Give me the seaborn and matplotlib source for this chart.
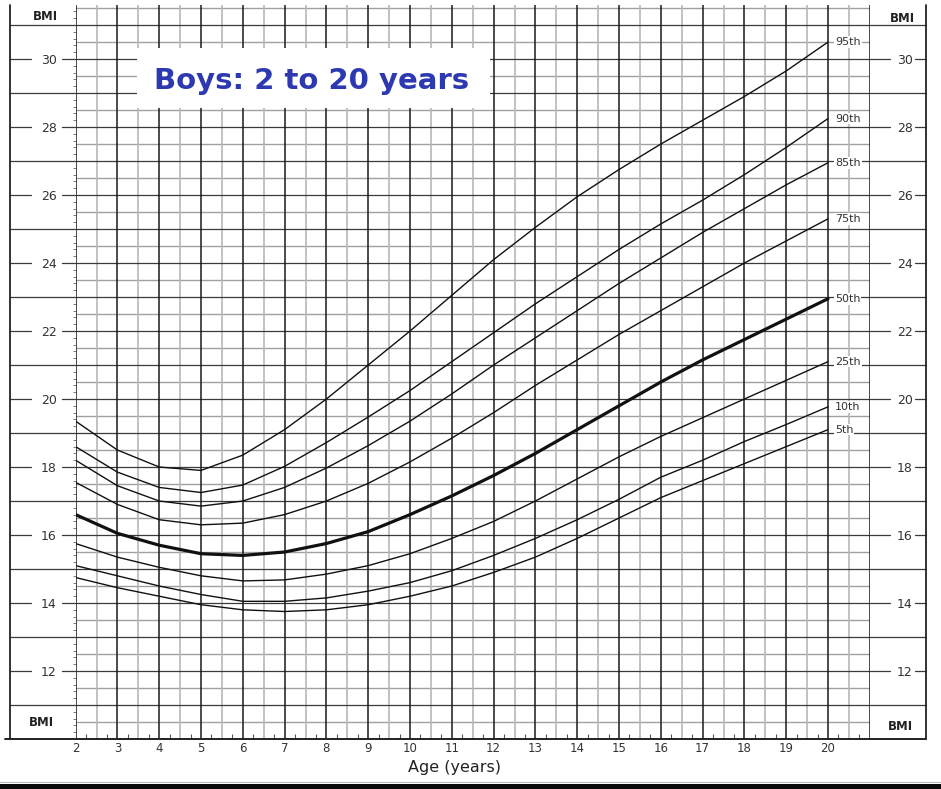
import numpy as np
import pandas as pd
import matplotlib
matplotlib.use("Agg")
import matplotlib.pyplot as plt
import matplotlib.transforms as mtransforms
from matplotlib.lines import Line2D
from matplotlib.patches import Rectangle
import seaborn as sns

# ---------------- data ----------------
ages = list(range(2, 21))
p5 = [14.75, 14.45, 14.2, 13.95, 13.8, 13.75, 13.8, 13.95, 14.2, 14.5, 14.9, 15.35, 15.9, 16.5, 17.1, 17.6, 18.1, 18.6, 19.1]
p10 = [15.1, 14.8, 14.5, 14.25, 14.05, 14.05, 14.15, 14.35, 14.6, 14.95, 15.4, 15.9, 16.45, 17.05, 17.7, 18.2, 18.75, 19.25, 19.77]
p25 = [15.75, 15.35, 15.05, 14.8, 14.65, 14.68, 14.85, 15.1, 15.45, 15.9, 16.4, 17.0, 17.65, 18.3, 18.9, 19.45, 20.0, 20.55, 21.1]
p50 = [16.6, 16.05, 15.7, 15.45, 15.4, 15.5, 15.75, 16.1, 16.6, 17.15, 17.75, 18.4, 19.1, 19.8, 20.5, 21.15, 21.75, 22.35, 22.95]
p75 = [17.55, 16.9, 16.45, 16.3, 16.35, 16.6, 17.0, 17.52, 18.15, 18.85, 19.6, 20.4, 21.15, 21.9, 22.6, 23.3, 24.0, 24.65, 25.3]
p85 = [18.2, 17.45, 17.0, 16.85, 17.0, 17.4, 17.97, 18.63, 19.35, 20.15, 21.0, 21.8, 22.6, 23.4, 24.15, 24.9, 25.6, 26.3, 26.95]
p90 = [18.6, 17.85, 17.4, 17.25, 17.47, 18.02, 18.72, 19.47, 20.25, 21.1, 21.95, 22.8, 23.6, 24.4, 25.15, 25.85, 26.6, 27.4, 28.25]
p95 = [19.35, 18.5, 18.0, 17.9, 18.35, 19.1, 20.0, 21.0, 22.0, 23.05, 24.1, 25.05, 25.95, 26.75, 27.5, 28.2, 28.9, 29.65, 30.5]

series = [p5, p10, p25, p50, p75, p85, p90, p95]
percentile_labels = ["5th", "10th", "25th", "50th", "75th", "85th", "90th", "95th"]
y_tick_values = list(range(12, 31, 2))
x_tick_values = list(range(2, 21))
title_text = "Boys: 2 to 20 years"
x_label = "Age (years)"
y_label = "BMI"

df = pd.DataFrame({
    "age": ages * len(series),
    "bmi": [v for s in series for v in s],
    "pct": [lab for lab, s in zip(percentile_labels, series) for _ in s],
})

# ---------------- figure ----------------
sns.set_theme(style="white")
plt.rcParams['font.family'] = ['DejaVu Sans']

W, H = 941, 789
fig = plt.figure(figsize=(W / 100, H / 100), dpi=100)
fig.patch.set_facecolor("white")

def fx(px):
    return px / W

def fy(py):
    return 1 - py / H

ax_l, ax_r, ax_t, ax_b = 75.6, 869.8, 5, 739
ax = fig.add_axes([fx(ax_l), fy(ax_b), (ax_r - ax_l) / W, (ax_b - ax_t) / H])
ax.set_xlim(2, 21)
ax.set_ylim(10, 31.59)
ax.set_facecolor("white")
for sp in ax.spines.values():
    sp.set_visible(False)

# grid
for v in np.arange(2, 21.001, 0.5):
    if abs(v - round(v)) < 1e-6:
        ax.axvline(v, color="#1a1a1a", lw=1.1, zorder=1)
    else:
        ax.axvline(v, color="#b8b8b8", lw=1.2, zorder=0.9)
for h in np.arange(10, 31.6, 0.5):
    if abs(h - round(h)) < 1e-6:
        ax.axhline(h, color="#3a3a3a", lw=0.9, zorder=0.95)
    else:
        ax.axhline(h, color="#a0a0a0", lw=1.0, zorder=0.85)

# curves
for lab in percentile_labels:
    sub = df[df["pct"] == lab]
    sns.lineplot(data=sub, x="age", y="bmi", ax=ax, color="#111111",
                 lw=2.3 if lab == "50th" else 1.0, legend=False, zorder=4)
    ax.text(20.17, sub["bmi"].iloc[-1], lab, fontsize=8, color="#333333",
            ha="left", va="center", zorder=5,
            bbox=dict(facecolor="white", edgecolor="none", pad=0.6))

# ticks
ax.set_xticks(x_tick_values)
ax.set_xticklabels([str(v) for v in x_tick_values])
ax.set_xticks(np.arange(2.25, 21, 0.5), minor=True)
ax.set_yticks(y_tick_values)
ax.set_yticklabels([str(v) for v in y_tick_values])
ax.set_yticks(np.arange(10, 31.6, 0.2), minor=True)
ax.tick_params(axis="x", which="major", length=0, pad=2.5, labelsize=8.5, labelcolor="#333333")
ax.tick_params(axis="x", which="minor", bottom=True, direction="in", length=3.5, width=0.8, color="#555555")
ax.tick_params(axis="y", which="major", length=0, pad=13.5, labelsize=9, labelcolor="#333333")
ax.tick_params(axis="y", which="minor", left=True, right=True, direction="out", length=2.5, width=0.6, color="#666666")

ax_rt = ax.twinx()
ax_rt.set_ylim(ax.get_ylim())
ax_rt.set_yticks(y_tick_values)
ax_rt.set_yticklabels([str(v) for v in y_tick_values])
ax_rt.tick_params(axis="y", which="major", length=0, pad=19.5, labelsize=9, labelcolor="#333333")
ax_rt.tick_params(axis="y", which="minor", length=0)
ax_rt.grid(False)
for sp in ax_rt.spines.values():
    sp.set_visible(False)

ax.set_ylabel("")
ax.set_xlabel(x_label, fontsize=11.5, color="#222222")
ax.xaxis.set_label_coords((455 - ax_l) / (ax_r - ax_l), -(760 - ax_b) / (ax_b - ax_t))

# title box
ax.add_patch(Rectangle((fx(137), fy(108)), (490 - 137) / W, (108 - 48) / H,
                       transform=fig.transFigure, facecolor="white", edgecolor="none",
                       zorder=3, clip_on=False))
ax.text(fx(312), fy(81), title_text, transform=fig.transFigure, fontsize=21,
        fontweight="bold", color="#2d39b0", ha="center", va="center", zorder=6)

# margin lines
tr = mtransforms.blended_transform_factory(fig.transFigure, ax.transData)
mc = "#3a3a3a"
for b in range(11, 32, 2):
    fig.add_artist(Line2D([fx(10), fx(ax_l)], [b, b], transform=tr, color=mc, lw=0.9))
    fig.add_artist(Line2D([fx(ax_r), fx(926)], [b, b], transform=tr, color=mc, lw=0.9))
for b in y_tick_values:
    for x0, x1 in [(10, 31), (62, ax_l), (ax_r, 890), (915, 926)]:
        fig.add_artist(Line2D([fx(x0), fx(x1)], [b, b], transform=tr, color=mc, lw=0.9))

# frame
fc = "#222222"
fig.add_artist(Line2D([fx(10), fx(10)], [fy(5), fy(ax_b)], color=fc, lw=1.3))
fig.add_artist(Line2D([fx(926), fx(926)], [fy(5), fy(ax_b)], color=fc, lw=1.3))
fig.add_artist(Line2D([fx(5), fx(926)], [fy(ax_b), fy(ax_b)], color=fc, lw=1.4))

# BMI labels
for (px, py) in [(45, 17), (41, 723), (902, 19), (900, 726)]:
    fig.text(fx(px), fy(py), y_label, fontsize=8.5, fontweight="bold", color="#222222",
             ha="center", va="center")

# bottom black bar
fig.add_artist(Rectangle((0, 0), 1, 5 / H, transform=fig.transFigure,
                         facecolor="#0a0a0a", edgecolor="none"))
fig.add_artist(Line2D([0, 1], [fy(782), fy(782)], color="#bbbbbb", lw=0.8))

fig.savefig("out.png", dpi=100, facecolor="white")
